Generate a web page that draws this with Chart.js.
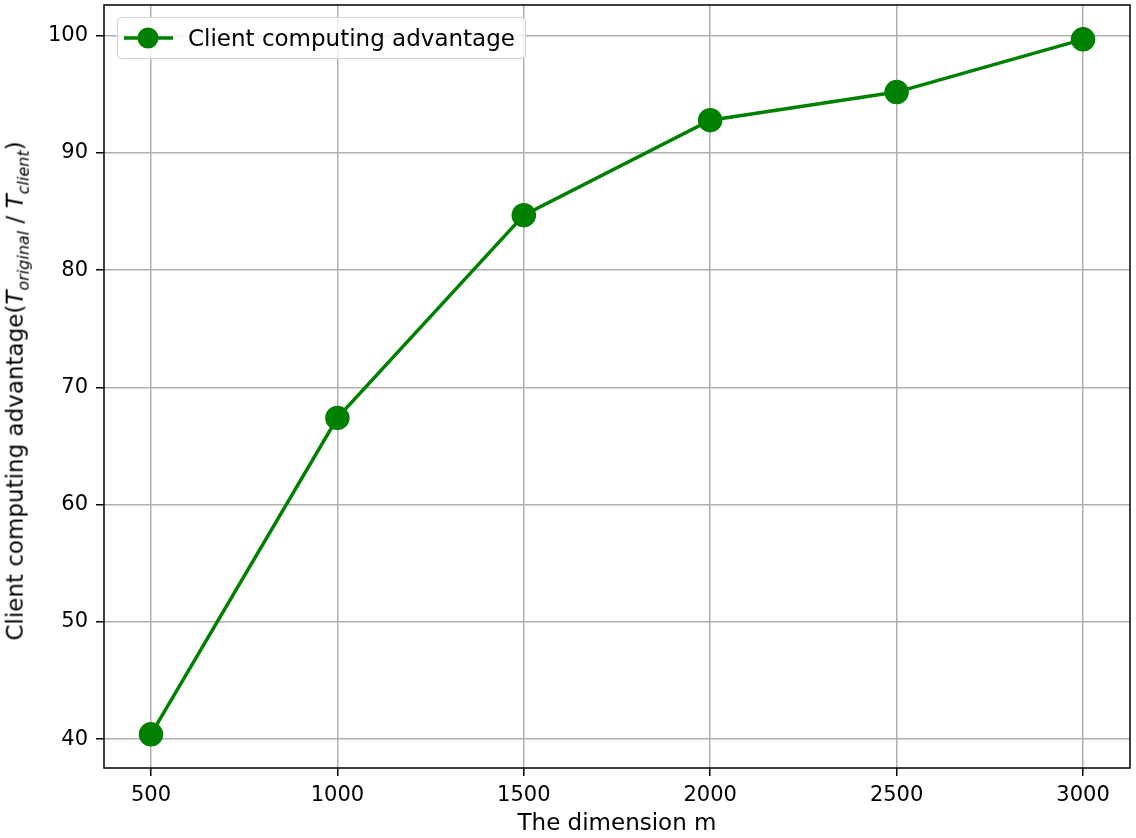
<!DOCTYPE html>
<html>
<head>
<meta charset="utf-8">
<script src="https://cdn.jsdelivr.net/npm/chart.js@4"></script>
<style>
  body { margin: 0; background: #fff; }
  #wrap { position: relative; width: 1136px; height: 838px; overflow: hidden; }
  #ytitle {
    position: absolute; left: 17px; top: 391px;
    transform: translate(-50%, -50%) rotate(-90deg);
    white-space: nowrap; font: 23px "DejaVu Sans", sans-serif; color: #000;
  }
  #ytitle sub { font-size: 16px; }
  #legend {
    position: absolute; left: 117px; top: 17px; width: 409px; height: 42px;
    box-sizing: border-box; border: 1px solid #d4d4d4; border-radius: 4px;
    background: rgba(255,255,255,0.8);
    font: 23px "DejaVu Sans", sans-serif; color: #000;
    display: flex; align-items: center;
  }
  #legend svg { margin-left: 6px; margin-right: 15px; }
</style>
</head>
<body>
<div id="wrap">
  <canvas id="chart" width="1136" height="838"></canvas>
  <div id="ytitle">Client computing advantage(<i>T</i><sub><i>original</i></sub> / <i>T</i><sub><i>client</i></sub>)</div>
  <div id="legend">
    <svg width="49" height="22"><line x1="0" y1="11" x2="49" y2="11" stroke="#008000" stroke-width="3.5"/><circle cx="24" cy="11" r="10.5" fill="#008000"/></svg>
    <span>Client computing advantage</span>
  </div>
</div>
<script>
// データ
const dims = [500, 1000, 1500, 2000, 2500, 3000];
const advantage = [40.4, 67.4, 84.7, 92.8, 95.2, 99.7];
const xTicks = [500, 1000, 1500, 2000, 2500, 3000];
const yTicks = [40, 50, 60, 70, 80, 90, 100];

const tickFont = { family: 'DejaVu Sans', size: 21 };
const titleFont = { family: 'DejaVu Sans', size: 23 };

// 枠線 (上・右も描く)
const frame = {
  id: 'frame',
  afterDatasetsDraw(chart) {
    const { ctx, chartArea: a } = chart;
    ctx.save();
    ctx.strokeStyle = '#000';
    ctx.lineWidth = 1.5;
    ctx.strokeRect(a.left, a.top, a.right - a.left, a.bottom - a.top);
    ctx.restore();
  }
};

new Chart(document.getElementById('chart'), {
  type: 'line',
  data: {
    datasets: [{
      label: 'Client computing advantage',
      data: dims.map((d, i) => ({ x: d, y: advantage[i] })),
      borderColor: '#008000',
      backgroundColor: '#008000',
      borderWidth: 3.5,
      pointRadius: 10.5,
      pointHoverRadius: 10.5,
      tension: 0,
      clip: false
    }]
  },
  options: {
    responsive: false,
    animation: false,
    layout: { autoPadding: false, padding: { top: 5, right: 6, left: 0, bottom: 0 } },
    plugins: { legend: { display: false }, tooltip: { enabled: false } },
    scales: {
      x: {
        type: 'linear', min: 374, max: 3126,
        afterBuildTicks: s => { s.ticks = xTicks.map(v => ({ value: v })); },
        afterFit: s => { s.height = 70; s.paddingLeft = 0; s.paddingRight = 0; },
        grid: { color: '#b0b0b0', lineWidth: 1.5, tickColor: '#000', tickLength: 8 },
        border: { display: false },
        ticks: { font: tickFont, color: '#000', padding: 7, maxRotation: 0, callback: v => String(v) },
        title: { display: true, text: 'The dimension m', font: titleFont, color: '#000', padding: { top: 0, bottom: 0 } }
      },
      y: {
        min: 37.53, max: 102.63,
        afterBuildTicks: s => { s.ticks = yTicks.map(v => ({ value: v })); },
        afterFit: s => { s.width = 104; s.paddingTop = 0; s.paddingBottom = 0; },
        grid: { color: '#b0b0b0', lineWidth: 1.5, tickColor: '#000', tickLength: 8 },
        border: { display: false },
        ticks: { font: tickFont, color: '#000', padding: 8, callback: v => String(v) }
      }
    }
  },
  plugins: [frame]
});
</script>
</body>
</html>
